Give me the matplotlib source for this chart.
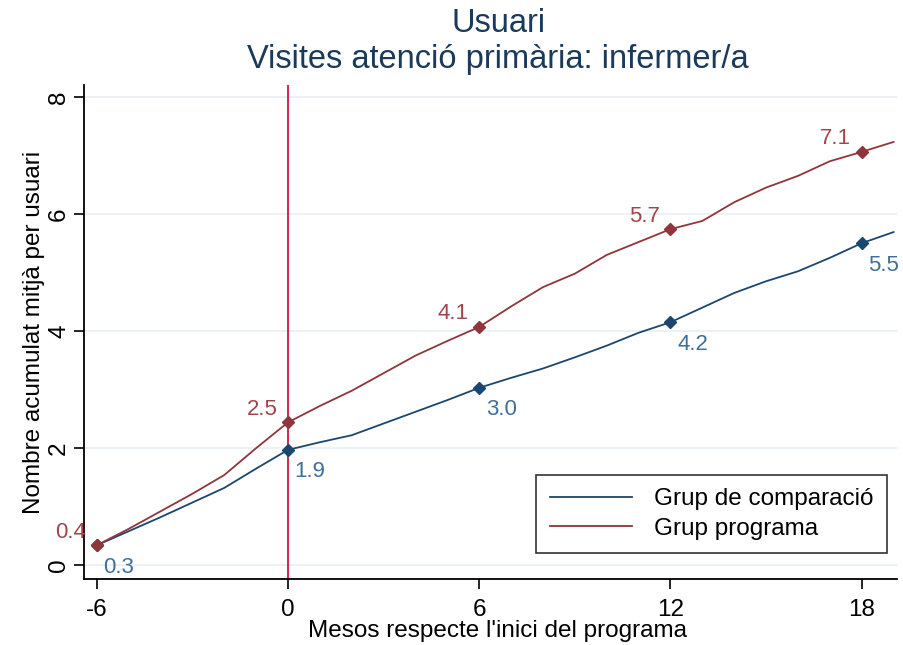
import numpy as np
import matplotlib.pyplot as plt
from matplotlib.lines import Line2D

plt.rcParams['font.family'] = ['Liberation Sans', 'DejaVu Sans']
plt.rcParams['axes.unicode_minus'] = False

# monthly cumulative means, months -6..19
mesos = list(range(-6, 20))
comparacio = [0.34, 0.58, 0.82, 1.07, 1.32, 1.65, 1.97,
              2.10, 2.22, 2.42, 2.62, 2.82, 3.03,
              3.20, 3.36, 3.55, 3.75, 3.97, 4.15,
              4.40, 4.65, 4.85, 5.02, 5.25, 5.50, 5.69]
programa = [0.34, 0.62, 0.92, 1.22, 1.54, 2.00, 2.44,
            2.72, 2.98, 3.28, 3.58, 3.83, 4.07,
            4.42, 4.75, 4.98, 5.30, 5.52, 5.74,
            5.88, 6.20, 6.45, 6.65, 6.90, 7.06, 7.23]

marca_mesos = [-6, 0, 6, 12, 18]
etiq_comparacio = ['0.3', '1.9', '3.0', '4.2', '5.5']
etiq_programa = ['0.4', '2.5', '4.1', '5.7', '7.1']

navy = '#1a476f'
maroon = '#90353b'

fig = plt.figure(figsize=(9.04, 6.45), dpi=100)
ax = fig.add_axes([0.093, 0.102, 0.899, 0.766])

ax.set_xlim(-6.4, 19.1)
ax.set_ylim(-0.24, 8.2)

for y in [0, 2, 4, 6, 8]:
    ax.axhline(y, color='#e8eff2', lw=1.2, zorder=0)

ax.axvline(0, color='#d2143c', lw=1.3, zorder=1)

ax.plot(mesos, comparacio, color=navy, lw=1.3, zorder=2)
ax.plot(mesos, programa, color=maroon, lw=1.3, zorder=2)

idx = [mesos.index(m) for m in marca_mesos]
ax.plot(marca_mesos, [comparacio[i] for i in idx], 'D', color=navy, ms=6.5, zorder=3)
ax.plot(marca_mesos, [programa[i] for i in idx], 'D', color=maroon, ms=6.5, zorder=3)

for m, i, t in zip(marca_mesos, idx, etiq_comparacio):
    ax.annotate(t, (m, comparacio[i]), xytext=(22, -22), textcoords='offset pixels',
                ha='center', va='center', color='#3f6f99', fontsize=16)
for m, i, t in zip(marca_mesos, idx, etiq_programa):
    ax.annotate(t, (m, programa[i]), xytext=(-26, 13), textcoords='offset pixels',
                ha='center', va='center', color='#a0454a', fontsize=16)

ax.set_xticks([-6, 0, 6, 12, 18])
ax.set_yticks([0, 2, 4, 6, 8])
ax.tick_params(axis='both', labelsize=17.5, length=7, width=1.2, direction='out')
ax.tick_params(axis='x', pad=7)
ax.tick_params(axis='y', pad=3)
for lab in ax.get_yticklabels():
    lab.set_rotation(90)
    lab.set_va('center')

ax.spines['top'].set_visible(False)
ax.spines['right'].set_visible(False)
ax.spines['left'].set_linewidth(1.3)
ax.spines['bottom'].set_linewidth(1.3)

ax.set_xlabel("Mesos respecte l'inici del programa", fontsize=17.5)
ax.xaxis.set_label_coords(0.509, -0.104)
ax.xaxis.label.set_va('center')
ax.set_ylabel('Nombre acumulat mitjà per usuari', fontsize=17.5, labelpad=2)

fig.text(0.551, 0.963, 'Usuari', ha='center', va='center', fontsize=23.5, color='#1a3a5c')
fig.text(0.551, 0.908, 'Visites atenció primària: infermer/a', ha='center', va='center',
         fontsize=23.5, color='#1a3a5c')

handles = [Line2D([], [], color=navy, lw=1.3), Line2D([], [], color=maroon, lw=1.3)]
leg = ax.legend(handles, ['Grup de comparació', 'Grup programa'], loc='lower right',
                bbox_to_anchor=(0.988, 0.053), borderaxespad=0, fontsize=17.5,
                frameon=True, fancybox=False, handlelength=3.4, handletextpad=0.9,
                borderpad=0.55, labelspacing=0.3)
leg.get_frame().set_edgecolor('black')
leg.get_frame().set_linewidth(1.2)

fig.savefig('out.png', dpi=100, facecolor='white')
